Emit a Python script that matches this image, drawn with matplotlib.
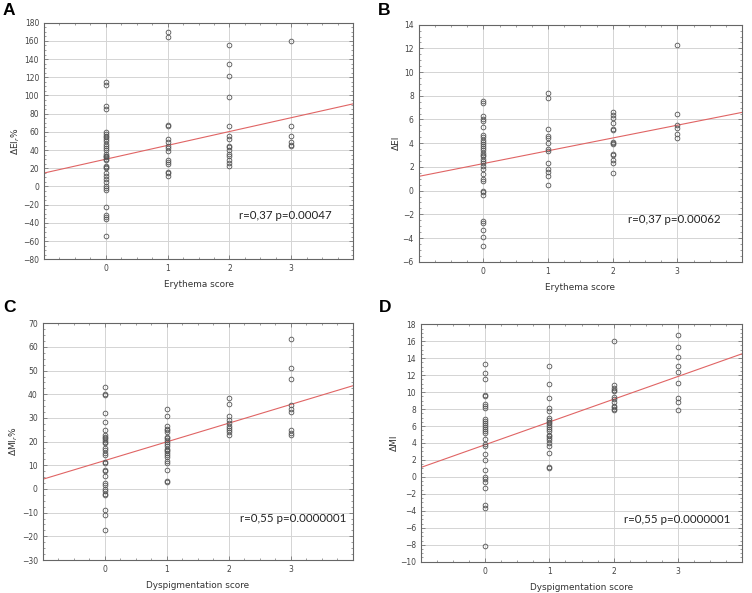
#!/usr/bin/env python3

import numpy as np
import matplotlib
matplotlib.use("Agg")
import matplotlib.pyplot as plt
from matplotlib.ticker import MultipleLocator

# --- data ---
# A: delta EI_r % vs erythema score
a_s0 = [115, 112, 88, 85, 60, 58, 56, 54, 52, 50, 47, 44, 42, 40, 36, 34, 33, 32,
        30, 29, 22, 21, 20, 15, 11, 8, 5, 0, -2, -4, -23, -31, -34, -36, -54]
a_s1 = [170, 164, 68, 66, 52, 49, 44, 42, 39, 29, 27, 25, 16, 15, 11]
a_s2 = [155, 135, 121, 98, 67, 56, 52, 45, 43, 40, 36, 33, 29, 26, 23]
a_s3 = [160, 67, 56, 49, 46, 44]
a_fit = (15.2, 30.0)  # slope, intercept

# B: delta EI vs erythema score
b_s0 = [7.6, 7.4, 6.3, 6.0, 5.9, 5.4, 4.7, 4.5, 4.3, 4.1, 3.9, 3.8, 3.6, 3.4, 3.2,
        3.0, 2.9, 2.7, 2.5, 2.3, 2.1, 1.8, 1.4, 1.0, 0.8, 0.0, -0.1, -0.4,
        -2.6, -2.7, -3.3, -3.9, -4.7]
b_s1 = [8.2, 7.8, 5.2, 4.6, 4.4, 4.0, 3.5, 3.3, 2.3, 1.8, 1.6, 1.2, 0.5]
b_s2 = [6.6, 6.4, 6.1, 5.7, 5.2, 5.1, 4.1, 4.0, 3.9, 3.1, 3.0, 2.6, 2.3, 1.5]
b_s3 = [12.3, 6.5, 5.5, 5.3, 4.8, 4.4]
b_fit = (1.08, 2.28)

# C: delta MI_r % vs dyspigmentation score
c_s0 = [43, 40, 39.5, 32, 28.5, 25, 23, 22, 21.5, 20.5, 20, 19.5, 17.5, 16.5, 15,
        14.5, 11.5, 11, 8, 7.5, 5.5, 2.5, 1.8, 0, -1, -2, -2.7, -9, -11, -17.5]
c_s1 = [34, 31, 26.5, 25.5, 25, 24, 22, 21.5, 20.5, 20, 19, 18, 17, 16.5, 16, 15,
        14.5, 13.5, 12, 11, 8, 3.5, 3]
c_s2 = [38.5, 36, 31, 29, 28, 26.5, 25.8, 25, 24, 23]
c_s3 = [63.5, 51, 46.5, 35.5, 34, 32.5, 25, 23.5, 23]
c_fit = (7.9, 12.0)

# D: delta MI vs dyspigmentation score
d_s0 = [13.3, 12.3, 11.6, 9.7, 9.6, 8.6, 8.4, 8.1, 6.8, 6.6, 6.3, 6.1, 5.9, 5.6,
        5.4, 5.2, 4.5, 3.9, 3.6, 2.7, 2.0, 0.8, 0.0, -0.3, -0.6, -1.3, -3.3, -3.7, -8.1]
d_s1 = [13.1, 10.9, 9.3, 8.1, 7.8, 7.0, 6.7, 6.5, 6.3, 6.1, 5.9, 5.6, 5.4, 5.0,
        4.8, 4.6, 4.3, 4.0, 3.7, 2.8, 1.2, 1.1]
d_s2 = [16.0, 10.8, 10.5, 10.3, 10.1, 9.4, 9.2, 8.8, 8.4, 8.2, 8.0, 7.9]
d_s3 = [16.7, 15.3, 14.1, 13.1, 12.4, 11.1, 9.3, 8.8, 7.9]
d_fit = (2.68, 3.8)

scores = [0, 1, 2, 3]
stats_txt = ["r=0,37 p=0.00047", "r=0,37 p=0.00062",
             "r=0,55 p=0.0000001", "r=0,55 p=0.0000001"]
ylabels = ["ΔEI$_r$%", "ΔEI", "ΔMI$_r$%", "ΔMI"]
xlabels = ["Erythema score", "Erythema score",
           "Dyspigmentation score", "Dyspigmentation score"]
panel_letters = ["A", "B", "C", "D"]

panels = [
    ([a_s0, a_s1, a_s2, a_s3], a_fit, (-80, 180), 20),
    ([b_s0, b_s1, b_s2, b_s3], b_fit, (-6, 14), 2),
    ([c_s0, c_s1, c_s2, c_s3], c_fit, (-30, 70), 10),
    ([d_s0, d_s1, d_s2, d_s3], d_fit, (-10, 18), 2),
]

W, H = 752, 593
# axes boxes in pixels: left, top, right, bottom
boxes = [(44, 22.7, 353, 259.3), (418.7, 24.7, 742, 261.7),
         (42.7, 323.3, 352.7, 560), (421, 324.3, 742, 561.7)]
letter_pos = [(3, 3), (378, 3), (3, 300), (379, 300)]
txt_pos = [(0.63, 0.16), (0.646, 0.155), (0.637, 0.15), (0.633, 0.153)]

fig = plt.figure(figsize=(W / 100, H / 100), dpi=100)
tick_col = "#444444"

for i, (cols, fit, ylim, ystep) in enumerate(panels):
    l, t, r, b = boxes[i]
    ax = fig.add_axes([l / W, 1 - b / H, (r - l) / W, (b - t) / H])
    for s, vals in zip(scores, cols):
        ax.plot([s] * len(vals), vals, "o", ms=3.4, mfc="none", mec="#555555",
                mew=0.6, zorder=3)
    xx = np.array([-1, 4])
    ax.plot(xx, fit[0] * xx + fit[1], color="#e06464", lw=0.8, zorder=2)

    ax.set_xlim(-1, 4)
    ax.set_ylim(*ylim)
    ax.set_xticks(scores)
    ax.yaxis.set_major_locator(MultipleLocator(ystep))
    ax.xaxis.set_minor_locator(MultipleLocator(0.25))
    ax.yaxis.set_minor_locator(MultipleLocator(ystep / 4))
    ax.grid(True, which="major", color="#d4d4d4", lw=0.7, zorder=0)
    ax.tick_params(which="both", direction="in", top=True, right=True,
                   labelsize=5.5, labelcolor=tick_col, color="#777777")
    ax.tick_params(which="major", length=3, width=0.6)
    ax.tick_params(which="minor", length=1.5, width=0.5)
    for sp in ax.spines.values():
        sp.set_color("#666666")
        sp.set_linewidth(0.8)

    ax.set_ylabel(ylabels[i], fontsize=6.5, color="#333333", labelpad=1)
    ax.set_xlabel(xlabels[i], fontsize=6.4, color="#333333", labelpad=5)
    ax.text(*txt_pos[i], stats_txt[i], transform=ax.transAxes, fontsize=8.3,
            family="Lato", color="#222222", va="bottom", ha="left")

    lx, ly = letter_pos[i]
    fig.text(lx / W, 1 - ly / H, panel_letters[i], fontsize=12.5,
             fontweight="bold", va="top", ha="left", family="Liberation Sans")

plt.savefig("out.png", dpi=100)
